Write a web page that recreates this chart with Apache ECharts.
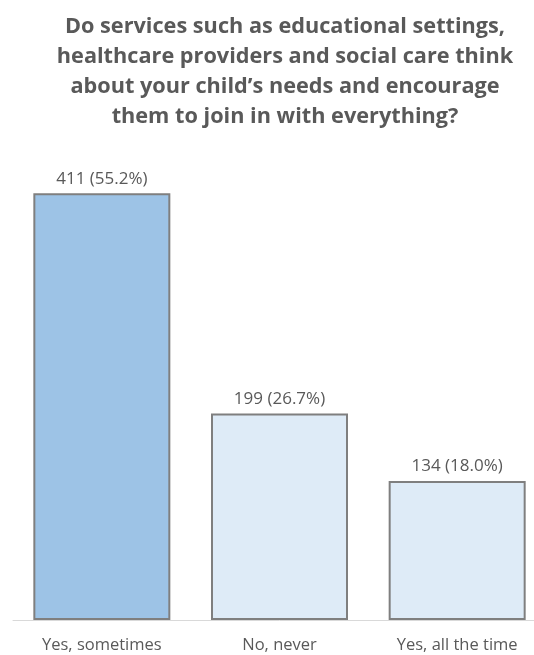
<!DOCTYPE html>
<html>
<head>
<meta charset="utf-8">
<script src="https://cdn.jsdelivr.net/npm/echarts@6/dist/echarts.min.js"></script>
<style>
  html, body { margin: 0; padding: 0; background: #fff; overflow: hidden; }
  #chart { width: 546px; height: 655px; }
</style>
</head>
<body>
<div id="chart"></div>
<script>
// Survey responses
const categories = ['Yes, sometimes', 'No, never', 'Yes, all the time'];
const counts = [411, 199, 134];
const percents = ['55.2%', '26.7%', '18.0%'];
const fills = ['#9DC3E6', '#DEEBF7', '#DEEBF7'];

const titleText = 'Do services such as educational settings,\nhealthcare providers and social care think\nabout your child\u2019s needs and encourage\nthem to join in with everything?';

const chart = echarts.init(document.getElementById('chart'));
chart.setOption({
  animation: false,
  title: {
    text: titleText,
    left: 280,
    top: 7,
    textAlign: 'center',
    textStyle: {
      fontFamily: 'Open Sans',
      fontWeight: 'bold',
      fontSize: 21.7,
      lineHeight: 30,
      color: '#595959'
    }
  },
  grid: { left: 13, right: 0, top: 152.8, height: 467.2 },
  xAxis: {
    type: 'category',
    data: categories,
    axisTick: { show: false },
    axisLine: { lineStyle: { color: '#D9D9D9', width: 1 } },
    axisLabel: { color: '#595959', fontFamily: 'Open Sans', fontSize: 16.5, margin: 17 }
  },
  yAxis: {
    type: 'value',
    min: 0,
    max: 450,
    show: false,
    splitLine: { show: false }
  },
  series: [{
    type: 'bar',
    data: counts.map((v, i) => ({ value: v, itemStyle: { color: fills[i] } })),
    barWidth: 137,
    itemStyle: { borderColor: '#7F7F7F', borderWidth: 2 },
    label: {
      show: true,
      position: 'top',
      distance: 6,
      color: '#595959',
      fontFamily: 'Open Sans',
      fontSize: 17,
      formatter: p => p.value + ' (' + percents[p.dataIndex] + ')'
    }
  }]
});
</script>
</body>
</html>
